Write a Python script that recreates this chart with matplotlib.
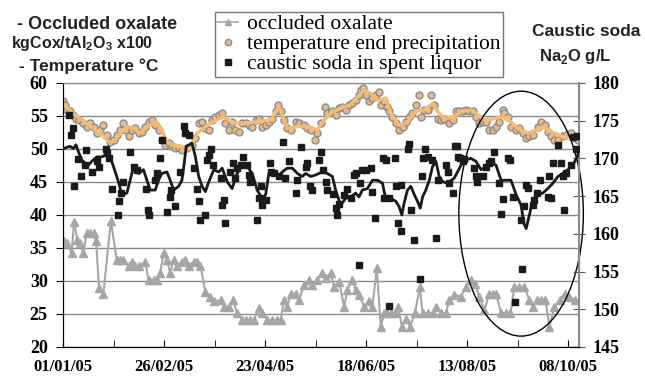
import numpy as np
import pandas as pd
import matplotlib
matplotlib.use("Agg")
import matplotlib.pyplot as plt
import matplotlib.dates as mdates
from matplotlib.patches import Ellipse
from matplotlib.lines import Line2D

plt.rcParams['mathtext.fontset'] = 'custom'
plt.rcParams['mathtext.bf'] = 'Liberation Sans:bold'
plt.rcParams['mathtext.rm'] = 'Liberation Sans:bold'

start = pd.Timestamp('2005-01-01')
end = pd.Timestamp('2005-10-14')
tick_labels = ['01/01/05', '26/02/05', '23/04/05', '18/06/05', '13/08/05', '08/10/05']

# occluded oxalate (kgCox/tAl2O3 x100), days since 01/01/05
ox_day = [0.6, 2.4, 4.8, 6.1, 8.0, 9.4, 11.3, 13.1, 15, 16.9, 18.3, 20, 22.4, 26.5, 29.8, 31.7,
          33.5, 36.3, 38.1, 40, 41.9, 45.6, 47.4, 50.2, 52, 53.9, 55.7, 57.6, 59.4, 61.3, 63.1,
          65.9, 67.8, 69.6, 72.4, 74.3, 76.2, 78.9, 81.3, 83.6, 87.3, 89.1, 91.9, 94.3, 96.5,
          99.3, 101.2, 103.9, 105.8, 108.6, 110.4, 113.2, 116, 118.7, 120.6, 122.5, 124.3, 126.2,
          128.9, 130.8, 133.6, 136.3, 138.2, 141, 143.7, 145.6, 148.4, 150.2, 153, 155.8, 157.6,
          160.4, 162.2, 164.1, 166.9, 169.7, 171.5, 173.9, 176.1, 178, 179.8, 181.7, 183.9, 185.8,
          187.8, 190, 192.4, 195, 197.8, 199.3, 202.1, 204.8, 206.7, 209.5, 212.2, 214.1, 216.9,
          220.6, 223.3, 226.1, 228.3, 230.7, 233.5, 236.3, 238.1, 240, 242.8, 245.6, 248, 250.2,
          253, 255.7, 258.5, 260.4, 262.8, 265, 267.4, 269.6, 272.4, 275.2, 278, 280.7, 283.5]
ox_val = [36.0, 35.7, 34.2, 39.0, 36.2, 35.7, 34.2, 37.2, 37.2, 37.2, 36.0, 28.9, 28.1, 39.1, 33.2, 33.2,
          33.2, 32.2, 32.9, 32.2, 32.2, 32.9, 30.2, 30.2, 30.2, 31.2, 34.2, 33.2, 31.2, 33.2, 32.2,
          32.9, 33.2, 32.2, 32.9, 32.9, 32.2, 28.4, 27.6, 26.9, 27.1, 26.1, 26.1, 27.1, 25.1,
          24.1, 24.1, 24.1, 24.1, 25.9, 25.1, 24.1, 24.1, 24.1, 24.1, 27.1, 26.1, 28.1,
          28.1, 27.1, 29.4, 30.2, 29.4, 30.2, 31.2, 30.4, 31.2, 29.1, 29.9, 26.1, 28.6,
          30.2, 28.6, 27.9, 26.1, 26.9, 26.1, 31.9, 23.1, 25.1, 25.1, 25.1, 25.1, 26.1,
          23.1, 24.3, 23.1, 25.1, 29.1, 25.1, 25.1, 25.1, 26.1, 25.1, 25.1, 27.1, 27.9,
          27.6, 29.1, 30.2, 29.6, 27.6, 25.6, 28.1, 28.1, 28.1, 25.1, 25.1, 25.1, 29.1,
          29.1, 29.1, 27.1, 26.1, 27.1, 27.1, 27.1, 23.1, 26.1, 27.1, 28.1, 27.6, 27.1]

# temperature end precipitation (degC)
temp_day = [0, 1.1, 2.4, 3.9, 5.4, 7.2, 9.1, 10.9, 13.1, 15, 16.9, 18.7, 20.6, 22.4, 24.3, 26.1, 28,
            29.8, 31.7, 33.5, 35, 36.3, 38.1, 40, 41.9, 43.7, 45.6, 47.4, 49.3, 51.1, 53, 54.8,
            56.7, 58.5, 60.4, 62.2, 64.1, 65.9, 68.7, 71.5, 73.4, 75.2, 77.1, 78.9, 80.8, 82.6,
            84.5, 86.3, 88.2, 90, 91.9, 93.7, 95.6, 97.5, 99.3, 101.2, 103, 104.9, 106.7, 108.6,
            110.4, 112.3, 114.1, 116, 117.8, 119.1, 120.6, 122.5, 124.3, 126.2, 128.9, 130.8,
            133.6, 135.4, 137.3, 139.5, 141, 142.8, 145, 146.5, 149.3, 151.1, 153, 154.8, 156.7,
            158.5, 160.4, 162.2, 164.1, 165, 166.5, 167.8, 169.7, 171.5, 173.4, 175.2, 176.1, 178,
            179.8, 180.8, 182.6, 184.5, 186.3, 188.2, 190, 191.9, 193.7, 195.6, 197.1, 198.4,
            200.2, 202.1, 203.9, 205.8, 207.6, 209.5, 211.3, 214.1, 216, 217.8, 219.6, 221.5,
            223.3, 225.2, 227, 228.9, 230.7, 232.6, 234.4, 236.3, 238.1, 240, 241.9, 243.7,
            244.6, 246.5, 248.3, 251.1, 253, 254.8, 256.7, 258.5, 260.4, 263.1, 265, 266.9,
            268.7, 270.6, 272.4, 274.3, 277, 278.9, 281.7, 283.5, 285.4]
temp_val = [57.2, 56.7, 55.9, 55.7, 55.2, 54.6, 54.4, 53.9, 53.4, 53.9, 53.4, 52.4, 52.9, 53.6, 52.1, 51.1, 51.4,
            52.1, 52.9, 53.9, 52.9, 51.9, 52.9, 53.1, 52.4, 52.6, 53.4, 54.1, 54.4, 53.6, 52.9, 51.4,
            50.6, 50.9, 50.4, 50.1, 50.1, 49.8, 50.1, 50.6, 51.6, 53.9, 54.1, 53.1, 52.9, 54.4,
            54.9, 55.2, 55.4, 53.9, 52.9, 54.1, 52.9, 52.6, 53.9, 53.9, 53.6, 53.4, 54.4, 54.6,
            53.4, 53.6, 54.1, 54.6, 55.7, 56.7, 55.7, 54.4, 53.1, 52.9, 54.1, 53.9,
            53.6, 53.1, 52.9, 51.4, 52.4, 53.9, 56.4, 55.4, 55.7, 55.2, 56.2, 56.4, 55.9,
            56.7, 56.9, 57.4, 58.2, 58.9, 59.2, 58.2, 57.2, 57.7, 58.2, 58.7, 56.7, 57.2,
            56.4, 55.7, 54.9, 53.9, 52.9, 53.4, 54.1, 54.9, 55.4, 56.7, 58.2, 54.9,
            55.9, 55.9, 58.2, 56.7, 54.6, 54.4, 54.6, 53.9, 54.4, 55.7, 55.7, 55.7,
            55.9, 55.7, 55.7, 54.9, 53.9, 54.1, 54.1, 52.9, 52.9, 53.4, 54.1, 55.9,
            55.4, 54.9, 53.4, 52.9, 53.1, 52.4, 51.6, 51.9, 52.1, 53.4, 54.1, 53.6,
            52.6, 51.9, 51.4, 51.4, 51.9, 52.1, 52.4, 51.6, 51.4]

# moving average of temperature
temp_ma_day = [0.2, 9.4, 16.9, 22.4, 26.1, 28.9, 31.7, 35.4, 39.1, 42.8, 46.5, 52, 54.8, 57.6, 61.3,
               65, 70.6, 74.3, 81.7, 89.1, 94.7, 100.2, 107.6, 115, 119.7, 124.3, 129.9, 135.4,
               141, 144.7, 148.4, 153.9, 159.5, 163.2, 166.9, 170.6, 174.3, 178.9, 181.7, 186.3,
               190.9, 195.6, 200.2, 204.8, 207.6, 211.3, 216.9, 220.6, 226.1, 229.8, 233.5, 239.1,
               243.7, 248.3, 253, 257.6, 263.1, 265.9, 270.6, 275.2, 278.9, 283.5, 286]
temp_ma_val = [56.7, 54.6, 53.1, 51.9, 50.9, 51.4, 52.4, 53.4, 53.1, 52.4, 53.4, 54.1, 52.9, 51.1, 50.6,
               50.4, 50.0, 52.4, 53.9, 54.9, 53.9, 53.9, 54.1, 54.4, 56.4, 53.1, 53.4, 53.4,
               52.9, 54.4, 55.4, 56.2, 56.7, 57.9, 58.9, 58.4, 57.4, 57.7, 55.4, 53.6,
               54.1, 55.7, 55.9, 56.9, 55.7, 54.6, 54.9, 55.7, 55.9, 55.2, 54.4, 54.6,
               54.9, 54.1, 52.9, 52.4, 52.9, 53.4, 52.6, 52.1, 51.6, 51.9, 51.1]

# caustic soda in spent liquor (Na2O g/L)
soda_day = [3.5, 4.4, 5.4, 6.3, 8.5, 10, 12.2, 12.8, 16.3, 18.7, 20.2, 23.9, 24.3, 25.7, 27.4, 30.2,
            31.3, 32.2, 33.5, 37.2, 39.1, 40.9, 46.1, 47.0, 47.9, 51.1, 52, 53.9, 54.8, 57.9, 59.4,
            60, 62.2, 65, 66.9, 67.8, 69.6, 72.5, 74.3, 75.2, 76.2, 78.9, 79.9, 80.8, 82.1, 83.2,
            87.3, 88.2, 89.1, 90.0, 92.8, 94.3, 95.6, 96.5, 98.4, 99.9, 102.1, 103, 103.9, 107.3,
            108.6, 109.5, 110.4, 112.3, 115, 115.5, 116.9, 119.7, 122.1, 123, 125.2, 128.9, 129.9,
            131.7, 134.5, 135.4, 136.9, 138.2, 141.9, 142.8, 144.2, 145.6, 146.5, 149.8, 151.1,
            152.1, 153, 155.8, 157.2, 159.5, 161.3, 162.2, 164.1, 164.7, 165.9, 167.8, 170.6,
            171.5, 172.8, 177.1, 178, 178.9, 180.8, 180.8, 183.9, 184.5, 185.8, 187.2, 187.6,
            191, 191.9, 192.8, 194.7, 198, 198.7, 199.3, 200.8, 202.1, 204.3, 206.7, 207.6,
            212.2, 213.2, 214.1, 215.9, 217.4, 218.3, 219.1, 220.2, 221.5, 222.4, 228, 228.9,
            229.4, 232.6, 234.4, 236.3, 237.2, 239.1, 241.9, 242.8, 243.7, 246.5, 248, 249.3,
            250.6, 253.9, 254.3, 255.4, 256.7, 257.6, 260.4, 260.9, 262.8, 264.6, 268.7, 269.1,
            270.2, 271.5, 274.6, 276.1, 277, 277.6, 278.9, 281.3, 282.6, 284.4, 285]
soda_val = [175.8, 173.1, 174.0, 166.3, 169.9, 167.6, 169.1, 171.1, 168.2, 169.6, 168.8, 171.3, 170.7, 170.0, 166.0, 162.5,
            164.4, 165.4, 166.9, 170.8, 168.9, 168.5, 166.0, 163.2, 162.5, 167.1, 168.0, 170.1, 172.4, 162.9, 164.9,
            165.8, 163.7, 168.2, 174.3, 173.3, 173.1, 168.7, 166.0, 164.3, 161.8, 162.5, 169.8, 170.5, 171.3, 169.1,
            167.4, 163.8, 164.5, 161.4, 168.2, 169.4, 167.4, 168.7, 169.1, 170.2, 169.1, 167.8, 166.9, 161.8,
            164.7, 166.3, 163.8, 164.5, 169.4, 168.2, 168.0, 167.6, 172.2, 167.4, 169.6, 165.4, 167.1,
            171.5, 168.9, 169.4, 166.3, 165.8, 169.8, 170.9, 168.5, 166.9, 165.8, 165.3, 163.4,
            162.5, 164.0, 165.2, 166.0, 164.7, 167.8, 168.0, 155.9, 166.7, 168.4, 168.5, 168.7,
            165.6, 162.1, 170.0, 164.7, 169.8, 164.7, 150.4, 170.0, 166.3, 161.4, 166.5, 160.4,
            171.3, 171.9, 163.2, 159.2, 154.0, 167.6, 170.0, 171.3, 170.2, 169.8, 159.4, 167.1,
            169.1, 168.2, 166.7, 165.4, 171.6, 171.6, 170.2, 170.0, 169.6, 169.9, 168.7, 167.6,
            166.9, 167.6, 168.9, 169.4, 169.6, 170.8, 166.7, 162.6, 164.6, 170.1, 169.8, 164.9,
            151.0, 161.8, 155.4, 163.7, 166.5, 166.1, 163.8, 164.5, 165.4, 167.2, 164.9, 167.6,
            164.8, 169.4, 171.8, 169.4, 167.6, 163.2, 168.0, 169.1, 172.8, 171.2, 173.0]

# moving average of caustic soda
soda_ma_day = [0.2, 3.9, 5.7, 7.2, 8.5, 10.4, 12.2, 14.1, 15.9, 18.7, 21.5, 24.3, 26.1, 28, 30.7, 32.6,
               35.4, 37.2, 39.1, 41.9, 44.6, 46.5, 48.3, 51.1, 52.9, 54.8, 57.6, 59.4, 61.3, 64.1,
               65.9, 67.2, 68.3, 71.5, 73.4, 75.2, 77.1, 78.9, 80.8, 83.6, 86.3, 88.2, 91, 93.7,
               96.5, 99.3, 102.1, 104.9, 107.6, 110.4, 112.3, 114.1, 116.9, 119.1, 121.5, 124.3,
               127.1, 129.9, 132.6, 134.5, 137.3, 140, 143.7, 146.5, 149.3, 151.1, 153.9, 156.7,
               159.5, 162.2, 164.1, 165.9, 168.7, 171.5, 174.3, 177.1, 178.9, 181.7, 184.5, 186.3,
               187.8, 189.1, 190.9, 192.8, 194.7, 196.5, 198, 199.3, 201.1, 203, 204.8, 206.7,
               208.5, 210.4, 213.2, 216.9, 220.6, 223.3, 226.1, 228.9, 231.7, 234.4, 237.2, 240,
               242.8, 245.6, 248.3, 251.1, 253.9, 255.4, 256.7, 258.5, 260.4, 263.1, 265.9, 268.7,
               271.5, 274.3, 277, 279.8, 282.6, 285, 286.3]
soda_ma_val = [171.3, 171.6, 171.3, 171.8, 170.9, 169.8, 169.4, 169.1, 169.6, 170.2, 170.2, 170.5, 170.2, 168.9, 166.9, 165.2,
               165.4, 167.1, 168.9, 168.0, 168.5, 167.1, 165.8, 165.8, 167.1, 168.0, 168.2, 167.1, 165.8, 166.3,
               167.1, 169.4, 171.6, 172.0, 170.2, 167.6, 166.3, 165.6, 166.9, 168.5, 168.2, 168.7, 166.9, 166.0,
               168.0, 169.1, 168.9, 168.0, 165.8, 164.7, 165.2, 168.0, 168.2, 167.6, 168.2, 168.7,
               168.7, 168.0, 167.6, 168.0, 167.6, 167.8, 168.2, 168.0, 167.6, 165.8, 163.8, 164.7,
               164.9, 165.4, 164.9, 165.8, 166.0, 167.1, 167.1, 166.7, 164.5, 164.7, 164.3, 163.6,
               162.5, 164.1, 165.8, 166.3, 165.2, 164.3, 163.4, 164.9, 165.8, 167.1, 168.9, 169.6,
               167.6, 166.9, 166.7, 167.4, 169.1, 169.8, 170.0, 169.6, 168.5, 168.9, 169.4, 169.1,
               167.1, 167.1, 167.1, 165.2, 163.8, 161.4, 160.7, 162.5, 164.5, 165.2, 165.4, 166.0,
               166.7, 167.6, 168.0, 168.5, 169.1, 170.2, 171.3]

def to_dates(days):
    return start + pd.to_timedelta(np.array(days), unit='D')

fig = plt.figure(figsize=(6.45, 3.77), dpi=100)
ax = fig.add_axes([0.0977, 0.0796, 0.8, 0.7004])
ax2 = ax.twinx()

grey = '#a6a6a6'
ax.plot(to_dates(ox_day), ox_val, '-^', color=grey, lw=1.5, ms=6, mec=grey, zorder=3)
ax.plot(to_dates(temp_day), temp_val, 'o', ms=5, mfc='#e9b98a', mec='#8c8c8c', mew=1.0, zorder=4)
ax.plot(to_dates(temp_ma_day), temp_ma_val, '-', color='#f6bb72', lw=2.5, zorder=5)
ax2.plot(to_dates(soda_day), soda_val, 's', color='#1a1a1a', ms=5, zorder=3)
ax2.plot(to_dates(soda_ma_day), soda_ma_val, '-', color='#1a1a1a', lw=2, zorder=4)

# ellipse marking the end period
ell_center = (mdates.date2num(start) + 253.9, 40.2)
ax.add_patch(Ellipse(ell_center, 69, 37.1, fill=False, ec='black', lw=1.0, clip_on=False, zorder=6))

ax.set_xlim(start, end)
ax.set_ylim(20, 60)
ax.set_yticks(np.arange(20, 61, 5))
ax2.set_ylim(145, 180)
ax2.set_yticks(np.arange(145, 181, 5))

major = [pd.to_datetime(t, format='%d/%m/%y') for t in tick_labels]
ax.set_xticks(major)
ax.set_xticklabels(tick_labels)
ax.set_xticks([start + pd.Timedelta(days=d) for d in range(28, 286, 56)], minor=True)

ax.grid(axis='y', color='#8a8a8a', lw=1)
ax.set_axisbelow(True)

tick_font = dict(family='Liberation Serif', weight='bold')
for lab in ax.get_yticklabels() + ax2.get_yticklabels():
    lab.set_fontproperties(tick_font)
    lab.set_fontsize(13)
for lab in ax.get_xticklabels():
    lab.set_fontproperties(tick_font)
    lab.set_fontsize(12)

ax.tick_params(axis='x', which='both', direction='in', length=5, pad=9)
ax.tick_params(axis='y', direction='out', length=5, pad=6)
ax2.tick_params(axis='y', direction='inout', length=8, pad=6, color='#555555')

for s in ['top', 'right']:
    ax.spines[s].set_color('#8a8a8a')
    ax2.spines[s].set_color('#8a8a8a')
ax2.spines['right'].set_linewidth(1.5)

sans = dict(family='Liberation Sans', weight='bold', color='#222222')
fig.text(0.026, 0.922, '- Occluded oxalate', fontsize=13, **sans)
fig.text(0.017, 0.872, r'kgCox/tAl$_\mathbf{2}$O$_\mathbf{3}$ x100', fontsize=11.5, **sans)
fig.text(0.030, 0.812, '- Temperature °C', fontsize=12.5, **sans)
fig.text(0.825, 0.905, 'Caustic soda', fontsize=12.5, **sans)
fig.text(0.892, 0.838, r'Na$_\mathbf{2}$O g/L', fontsize=12, ha='center', **sans)

handles = [
    Line2D([], [], color=grey, marker='^', ms=5, lw=1.2),
    Line2D([], [], color='none', marker='o', ms=4.5, mfc='#e9b98a', mec='#8c8c8c'),
    Line2D([], [], color='none', marker='s', ms=4, mfc='#1a1a1a', mec='#1a1a1a'),
]
labels = ['occluded oxalate', 'temperature end precipitation', 'caustic soda in spent liquor']
leg = fig.legend(handles, labels, loc='upper left', bbox_to_anchor=(0.333, 0.968),
                 borderaxespad=0, frameon=True, fancybox=False, handlelength=1.0,
                 handletextpad=0.4, labelspacing=0.0, borderpad=0.1,
                 prop=dict(family='Liberation Serif', size=15.5))
leg.get_frame().set_edgecolor('#555555')
leg.get_frame().set_linewidth(1.0)

fig.savefig('out.png', dpi=100)
